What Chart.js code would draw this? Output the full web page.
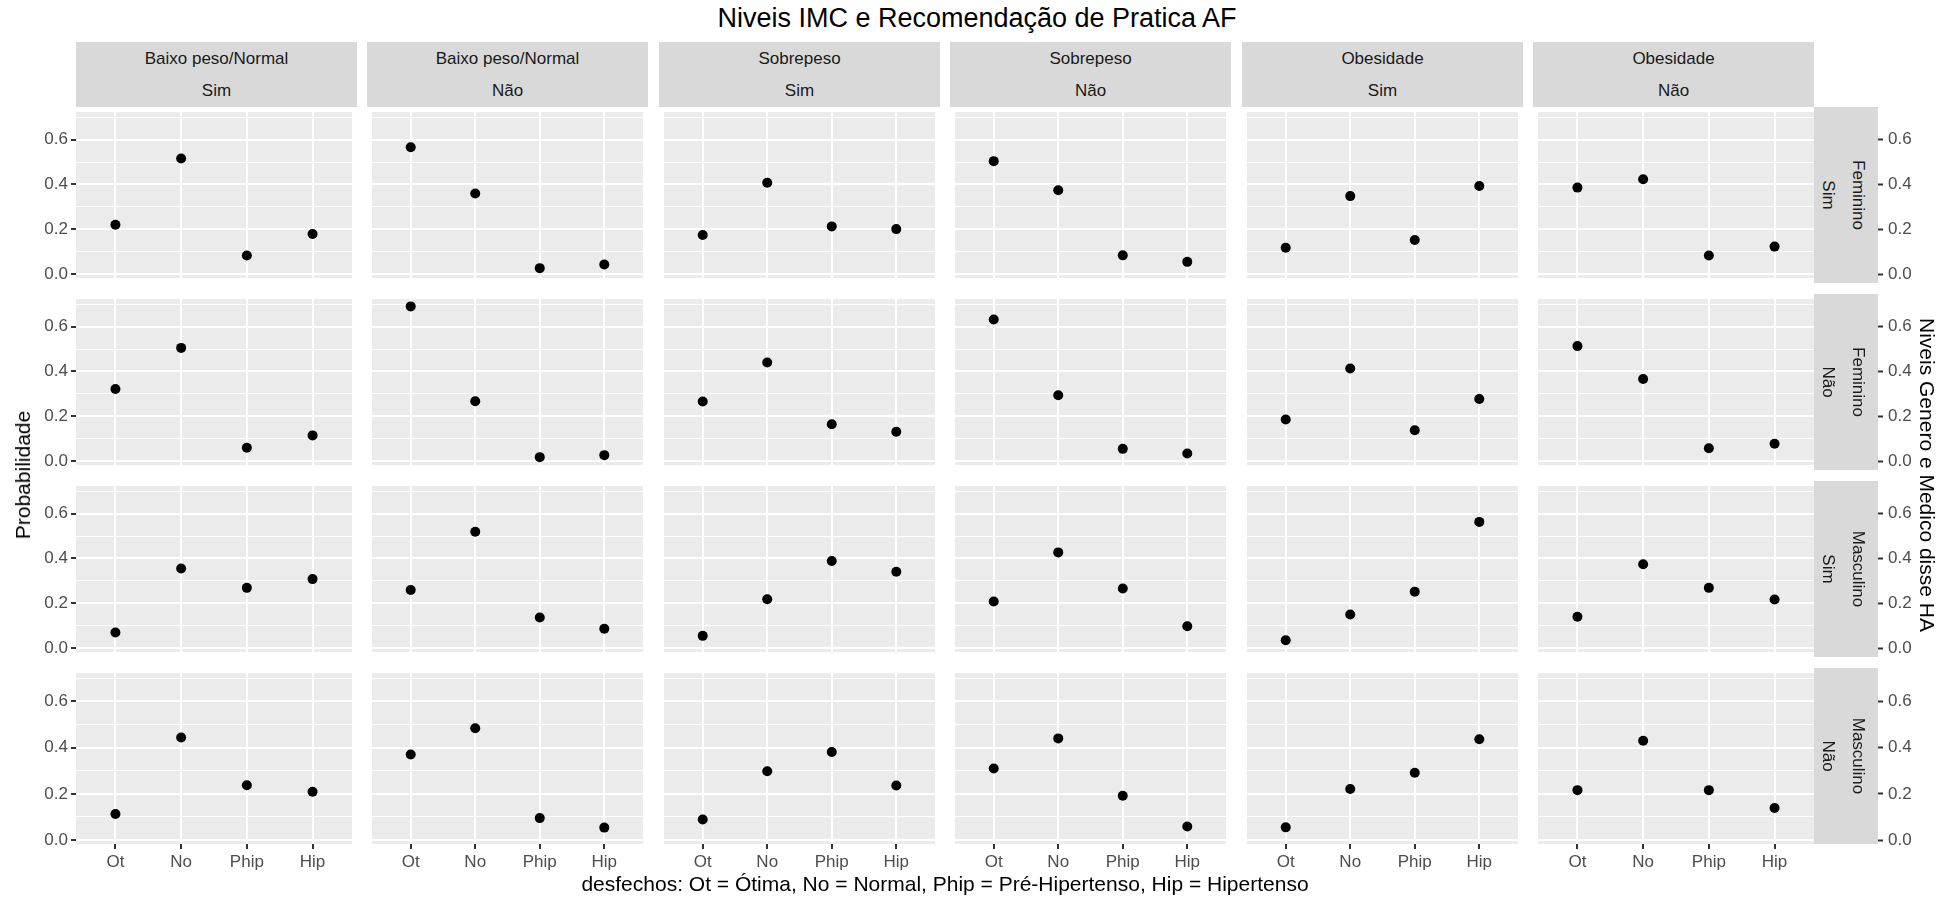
<!DOCTYPE html>
<html>
<head>
<meta charset="utf-8">
<script src="https://cdn.jsdelivr.net/npm/chart.js@4.4.1/dist/chart.umd.min.js"></script>
<style>
  body { margin: 0; background: #fff; font-family: "Liberation Sans", Arial, sans-serif; }
  #wrap { position: relative; width: 1958px; height: 900px; overflow: hidden; }
  canvas { position: absolute; }
  .strip { position: absolute; background: #D9D9D9; color: #1A1A1A; font-size: 17px; z-index: 2; }
  .lbl { position: absolute; white-space: nowrap; transform: translate(-50%, -50%); }
</style>
</head>
<body>
<div id="wrap"></div>
<script>
// categorias do eixo x
const categories = ['Ot', 'No', 'Phip', 'Hip'];
// facetas colunas (IMC / recomendação AF) e linhas (genero / medico disse HA)
const imcLevels = ['Baixo peso/Normal', 'Baixo peso/Normal', 'Sobrepeso', 'Sobrepeso', 'Obesidade', 'Obesidade'];
const afLevels = ['Sim', 'Não', 'Sim', 'Não', 'Sim', 'Não'];
const generoLevels = ['Feminino', 'Feminino', 'Masculino', 'Masculino'];
const medicoLevels = ['Sim', 'Não', 'Sim', 'Não'];
const yMajor = [0, 0.2, 0.4, 0.6];
const yMinor = [0.1, 0.3, 0.5, 0.7];

// probabilidades por painel: [Ot, No, Phip, Hip]
const probFemSim = [
  [0.22, 0.516, 0.083, 0.179],
  [0.566, 0.36, 0.027, 0.043],
  [0.175, 0.408, 0.213, 0.201],
  [0.504, 0.374, 0.084, 0.055],
  [0.118, 0.348, 0.152, 0.393],
  [0.386, 0.423, 0.083, 0.123]
];
const probFemNao = [
  [0.322, 0.505, 0.06, 0.115],
  [0.69, 0.267, 0.018, 0.027],
  [0.266, 0.44, 0.165, 0.131],
  [0.632, 0.294, 0.055, 0.034],
  [0.186, 0.413, 0.138, 0.277],
  [0.513, 0.366, 0.058, 0.078]
];
const probMascSim = [
  [0.07, 0.355, 0.269, 0.308],
  [0.259, 0.519, 0.137, 0.087],
  [0.055, 0.218, 0.389, 0.341],
  [0.208, 0.427, 0.266, 0.098],
  [0.035, 0.15, 0.252, 0.563],
  [0.14, 0.374, 0.269, 0.217]
];
const probMascNao = [
  [0.113, 0.444, 0.237, 0.209],
  [0.37, 0.484, 0.095, 0.054],
  [0.089, 0.298, 0.381, 0.236],
  [0.31, 0.44, 0.192, 0.059],
  [0.055, 0.221, 0.291, 0.436],
  [0.216, 0.43, 0.216, 0.139]
];
const panelRows = [probFemSim, probFemNao, probMascSim, probMascNao];

const wrap = document.getElementById('wrap');
const FONT = '"Liberation Sans", Arial, sans-serif';
const colLeft = [76, 367, 659, 950, 1242, 1533];
const rowTop = [107, 294, 481, 668];
const panelW = 281, panelH = 176;
const leftAxisW = 76, rightAxisW = 144, bottomAxisH = 34;

const panelBg = {
  id: 'panelBg',
  beforeDraw(chart) {
    const { ctx, chartArea: a } = chart;
    ctx.save();
    ctx.fillStyle = '#EBEBEB';
    ctx.fillRect(a.left, a.top, a.right - a.left, a.bottom - a.top);
    ctx.restore();
  }
};

function noPad(s) {
  s.paddingLeft = 0; s.paddingRight = 0; s.paddingTop = 0; s.paddingBottom = 0;
}
const isMajor = (ctx) => ctx.tick && yMajor.includes(ctx.tick.value);

function addLabel(parent, text, x, y, css) {
  const d = document.createElement('div');
  d.className = 'lbl';
  d.textContent = text;
  d.style.left = x + 'px';
  d.style.top = y + 'px';
  Object.assign(d.style, css || {});
  parent.appendChild(d);
  return d;
}

function makePanel(r, c) {
  const showY = c === 0, showX = r === 3, showY2 = c === 5;
  const cv = document.createElement('canvas');
  const w = panelW + (showY ? leftAxisW : 0) + (showY2 ? rightAxisW : 0);
  const h = panelH + (showX ? bottomAxisH : 0);
  cv.width = w; cv.height = h;
  cv.style.width = w + 'px'; cv.style.height = h + 'px';
  cv.style.left = (colLeft[c] - (showY ? leftAxisW : 0)) + 'px';
  cv.style.top = rowTop[r] + 'px';
  wrap.appendChild(cv);

  const scales = {
    x: {
      type: 'linear', min: -0.6, max: 3.6, bounds: 'data',
      afterBuildTicks: s => { s.ticks = categories.map((_, i) => ({ value: i })); },
      afterFit: s => { s.height = showX ? bottomAxisH : 0; noPad(s); },
      grid: { color: '#FFFFFF', lineWidth: 2, drawTicks: showX, tickLength: 5, tickColor: '#333333', tickWidth: 2 },
      border: { display: false },
      ticks: { display: showX, color: '#4D4D4D', font: { family: FONT, size: 17 }, padding: 3,
               maxRotation: 0, autoSkip: false, callback: v => categories[v] }
    },
    y: {
      type: 'linear', min: -0.017, max: 0.723, bounds: 'data',
      afterBuildTicks: s => { s.ticks = [...yMajor, ...yMinor].sort((a, b) => a - b).map(v => ({ value: v })); },
      afterFit: s => { s.width = showY ? leftAxisW : 0; noPad(s); },
      grid: { color: '#FFFFFF', lineWidth: ctx => isMajor(ctx) ? 2 : 1, drawTicks: showY, tickLength: 5,
              tickColor: ctx => isMajor(ctx) ? '#333333' : 'rgba(0,0,0,0)', tickWidth: 2 },
      border: { display: false },
      ticks: { display: showY, color: '#4D4D4D', font: { family: FONT, size: 17 }, padding: 3,
               autoSkip: false, callback: v => yMajor.includes(v) ? v.toFixed(1) : '' }
    }
  };
  if (showY2) {
    // eixo da direita: as marcas passam por baixo da faixa e só aparecem depois dela
    scales.y2 = {
      type: 'linear', position: 'right', min: -0.017, max: 0.723, bounds: 'data',
      afterBuildTicks: s => { s.ticks = yMajor.map(v => ({ value: v })); },
      afterFit: s => { s.width = rightAxisW; noPad(s); },
      grid: { drawOnChartArea: false, drawTicks: true, tickLength: 69, tickColor: '#333333', tickWidth: 2 },
      border: { display: false },
      ticks: { color: '#4D4D4D', font: { family: FONT, size: 17 }, padding: 5,
               autoSkip: false, callback: v => v.toFixed(1) }
    };
  }

  new Chart(cv, {
    type: 'scatter',
    data: {
      datasets: [{
        data: panelRows[r][c].map((v, i) => ({ x: i, y: v })),
        backgroundColor: '#000000',
        borderWidth: 0,
        pointRadius: 5,
        pointHoverRadius: 5
      }]
    },
    options: {
      responsive: false,
      animation: false,
      devicePixelRatio: 1,
      events: [],
      layout: { padding: 0 },
      plugins: { legend: { display: false }, tooltip: { enabled: false } },
      scales: scales
    },
    plugins: [panelBg]
  });
}

for (let r = 0; r < 4; r++) {
  for (let c = 0; c < 6; c++) makePanel(r, c);
}

// faixas superiores
for (let c = 0; c < 6; c++) {
  const s = document.createElement('div');
  s.className = 'strip';
  Object.assign(s.style, { left: colLeft[c] + 'px', top: '42px', width: panelW + 'px', height: '65px' });
  wrap.appendChild(s);
  addLabel(s, imcLevels[c], panelW / 2, 17);
  addLabel(s, afLevels[c], panelW / 2, 49);
}
// faixas da direita
for (let r = 0; r < 4; r++) {
  const s = document.createElement('div');
  s.className = 'strip';
  Object.assign(s.style, { left: '1814px', top: rowTop[r] + 'px', width: '64px', height: panelH + 'px' });
  wrap.appendChild(s);
  addLabel(s, generoLevels[r], 44, panelH / 2, { transform: 'translate(-50%, -50%) rotate(90deg)' });
  addLabel(s, medicoLevels[r], 14, panelH / 2, { transform: 'translate(-50%, -50%) rotate(90deg)' });
}

addLabel(wrap, 'Niveis IMC e Recomendação de Pratica AF', 977, 18, { fontSize: '27px', color: '#000' });
addLabel(wrap, 'desfechos: Ot = Ótima, No = Normal, Phip = Pré-Hipertenso, Hip = Hipertenso', 945, 884, { fontSize: '21px', color: '#000' });
addLabel(wrap, 'Probabilidade', 23, 475, { fontSize: '21px', color: '#000', transform: 'translate(-50%, -50%) rotate(-90deg)' });
addLabel(wrap, 'Niveis Genero e Medico disse HA', 1927, 475, { fontSize: '21px', color: '#000', transform: 'translate(-50%, -50%) rotate(90deg)' });
</script>
</body>
</html>
